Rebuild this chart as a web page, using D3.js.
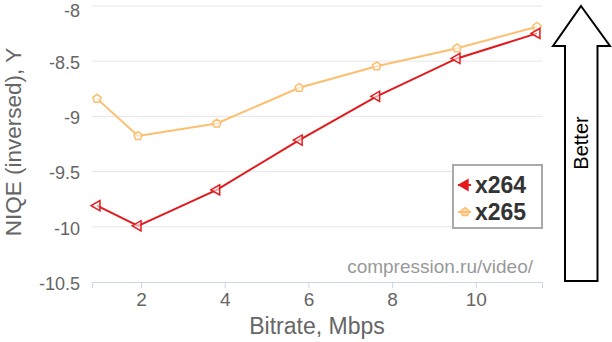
<!DOCTYPE html>
<html>
<head>
<meta charset="utf-8">
<script src="https://cdn.jsdelivr.net/npm/d3@7"></script>
<style>
  html, body { margin: 0; padding: 0; background: #fff; }
  svg { display: block; font-family: "Liberation Sans", Arial, sans-serif; }
</style>
</head>
<body>
<svg id="chart" width="612" height="342"></svg>
<script>
// data
const bitrates = [0.95, 1.93, 3.81, 5.78, 7.63, 9.55, 11.46];
const x264 = [-9.809, -9.991, -9.666, -9.214, -8.818, -8.475, -8.248];
const x265 = [-8.839, -9.177, -9.064, -8.741, -8.545, -8.382, -8.188];
const xTicks = [2, 4, 6, 8, 10];
const yTicks = [-8, -8.5, -9, -9.5, -10, -10.5];
const seriesNames = ["x264", "x265"];
const seriesColors = ["#e31a1c", "#fdbf6f"];

let width = 612;
let height = 342;
let marginLeft = 92;
let marginRight = 70;
let marginTop = 6;
let marginBottom = 60;

const svg = d3.select("#chart");

const xScale = d3
  .scaleLinear()
  .domain([0.83, 11.58])
  .range([marginLeft, width - marginRight]);

const yScale = d3
  .scaleLinear()
  .domain([-10.5, -8])
  .range([height - marginBottom, marginTop]);

// grid lines
svg
  .append("g")
  .selectAll("line")
  .data(yTicks.filter((d) => d !== -10.5))
  .join("line")
  .attr("x1", marginLeft)
  .attr("x2", width - marginRight)
  .attr("y1", (d) => yScale(d))
  .attr("y2", (d) => yScale(d))
  .attr("stroke", "#e6e6e6")
  .attr("stroke-width", 1);

// y axis labels
const yAxis = d3
  .axisLeft(yScale)
  .tickValues(yTicks)
  .tickSize(0)
  .tickPadding(12)
  .tickFormat((d) => d);
svg
  .append("g")
  .attr("transform", `translate(${marginLeft}, 0)`)
  .call(yAxis)
  .call((g) => g.select(".domain").remove())
  .call((g) =>
    g
      .selectAll("text")
      // top label sits at the edge, push it down a bit so it stays inside
      .attr("dy", (d) => (d === -8 ? "0.58em" : "0.4em"))
      .attr("fill", "#666")
      .style("font-size", "18px")
      .style("font-family", "Liberation Sans, Arial, sans-serif"),
  );

// x axis
const xAxis = d3
  .axisBottom(xScale)
  .tickValues(xTicks)
  .tickSize(6)
  .tickPadding(5)
  .tickFormat((d) => d);
svg
  .append("g")
  .attr("transform", `translate(0, ${height - marginBottom})`)
  .call(xAxis)
  .call((g) => g.select(".domain").attr("stroke", "#ccd6eb"))
  .call((g) => g.selectAll(".tick line").attr("stroke", "#ccd6eb"))
  .call((g) =>
    g
      .selectAll("text")
      .attr("fill", "#666")
      .style("font-size", "19px")
      .style("font-family", "Liberation Sans, Arial, sans-serif"),
  );

// axis titles
svg
  .append("text")
  .attr("x", (marginLeft + width - marginRight) / 2)
  .attr("y", 334)
  .attr("text-anchor", "middle")
  .attr("fill", "#666")
  .style("font-size", "23px")
  .text("Bitrate, Mbps");

svg
  .append("text")
  .attr("transform", `translate(21, 142) rotate(-90)`)
  .attr("text-anchor", "middle")
  .attr("fill", "#666")
  .style("font-size", "22.5px")
  .text("NIQE (inversed), Y");

// credits
svg
  .append("text")
  .attr("x", 533)
  .attr("y", 273)
  .attr("text-anchor", "end")
  .attr("fill", "#999")
  .style("font-size", "19px")
  .text("compression.ru/video/");

// markers: left triangle for x264, pentagon for x265
const pentagon = {
  draw(context, size) {
    const r = Math.sqrt(size / 2.4);
    for (let i = 0; i < 5; i++) {
      const a = -Math.PI / 2 + (i * 2 * Math.PI) / 5;
      if (i === 0) context.moveTo(r * Math.cos(a), r * Math.sin(a));
      else context.lineTo(r * Math.cos(a), r * Math.sin(a));
    }
    context.closePath();
  },
};
const symbols = [
  d3.symbol().type(d3.symbolTriangle).size(45),
  d3.symbol().type(pentagon).size(45),
];

const seriesData = [x264, x265];
const line = d3
  .line()
  .x((d, i) => xScale(bitrates[i]))
  .y((d) => yScale(d));

// draw x265 first so x264 sits on top
[1, 0].forEach((s) => {
  const g = svg.append("g");
  g.append("path")
    .datum(seriesData[s])
    .attr("fill", "none")
    .attr("stroke", seriesColors[s])
    .attr("stroke-width", 2)
    .attr("d", line);
  g.selectAll("path.marker")
    .data(seriesData[s])
    .join("path")
    .attr("class", "marker")
    .attr("d", symbols[s])
    .attr(
      "transform",
      (d, i) =>
        `translate(${xScale(bitrates[i])}, ${yScale(d)})` +
        (s === 0 ? " rotate(-90)" : ""),
    )
    .attr("fill", "#fff")
    .attr("fill-opacity", 0.6)
    .attr("stroke", seriesColors[s])
    .attr("stroke-width", 1.5);
});

// legend
const legend = svg.append("g");
legend
  .append("rect")
  .attr("x", 453)
  .attr("y", 165)
  .attr("width", 89)
  .attr("height", 63)
  .attr("fill", "#fff")
  .attr("stroke", "#aaa")
  .attr("stroke-width", 2);

seriesNames.forEach((name, i) => {
  const cy = 185 + i * 27;
  legend
    .append("line")
    .attr("x1", 458)
    .attr("x2", 471)
    .attr("y1", cy)
    .attr("y2", cy)
    .attr("stroke", seriesColors[i])
    .attr("stroke-width", 2);
  legend
    .append("path")
    .attr("d", symbols[i])
    .attr("transform", `translate(465, ${cy})` + (i === 0 ? " rotate(-90)" : ""))
    .attr("fill", seriesColors[i])
    .attr("fill-opacity", i === 0 ? 1 : 0.5)
    .attr("stroke", seriesColors[i])
    .attr("stroke-width", 1.5);
  legend
    .append("text")
    .attr("x", 475)
    .attr("y", cy + 8)
    .attr("fill", "#333")
    .style("font-size", "23px")
    .style("font-weight", "bold")
    .text(name);
});

// "Better" arrow
const arrowPts = [
  [581, 6],
  [610, 46],
  [597.5, 46],
  [597.5, 281],
  [565, 281],
  [565, 46],
  [553, 46],
];
svg
  .append("path")
  .attr("d", d3.line()(arrowPts) + "Z")
  .attr("fill", "#fff")
  .attr("stroke", "#000")
  .attr("stroke-width", 2);
svg
  .append("text")
  .attr("transform", "translate(588, 143) rotate(-90)")
  .attr("text-anchor", "middle")
  .attr("fill", "#000")
  .style("font-size", "20px")
  .text("Better");
</script>
</body>
</html>
